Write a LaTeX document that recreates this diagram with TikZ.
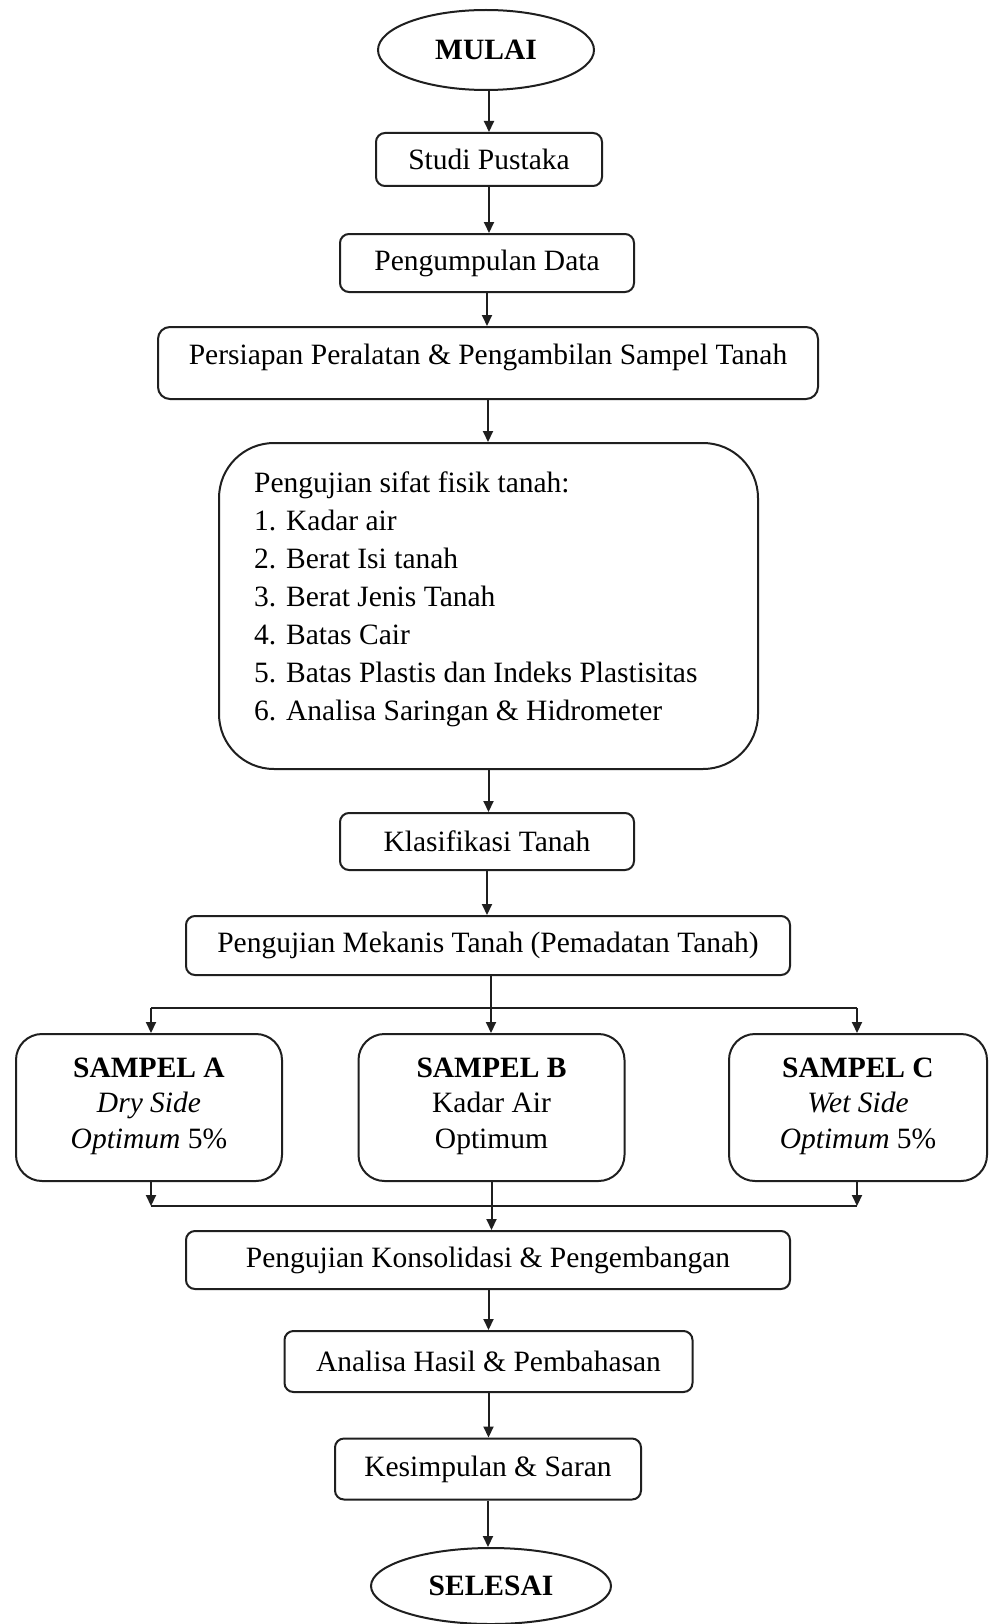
\documentclass[tikz,border=0pt]{standalone}
\usepackage{fontspec}
\setmainfont{Liberation Serif}
\usetikzlibrary{arrows.meta,shapes.geometric}
\begin{document}
\begin{tikzpicture}[x=1pt,y=-1pt,
  every node/.style={font=\fontsize{29.5}{38}\selectfont, inner sep=0pt},
  line/.style={draw=black!88, line width=2pt},
  arr/.style={line, -{Triangle[length=11pt,width=10pt]}},
  stepbox/.style={line, rectangle, rounded corners=9pt},
  term/.style={line, ellipse},
  sampbox/.style={line, rectangle, rounded corners=26pt, minimum width=266pt, minimum height=147pt},
  samptext/.style={align=center, font=\fontsize{29.5}{35.5}\selectfont}
]
\useasboundingbox[fill=white] (0,0) rectangle (989,1624);

\node[term, minimum width=216pt, minimum height=80pt] (mulai) at (486,50) {\textbf{MULAI}};
\node[stepbox, minimum width=226pt, minimum height=53pt] (studi) at (489,159.5) {Studi Pustaka};
\node[stepbox, minimum width=294pt, minimum height=58pt] (data) at (487,263) {Pengumpulan Data};
\node[stepbox, rounded corners=12pt, minimum width=660pt, minimum height=72pt] (persiapan) at (488,363) {};
\node (persiapant) at (488,357) {Persiapan Peralatan \& Pengambilan Sampel Tanah};
\node[line, rectangle, rounded corners=55pt, minimum width=539pt, minimum height=326pt] (fisik) at (488.5,606) {};
\node[anchor=north west, align=left] (fisikt) at (254,472) {Pengujian sifat fisik tanah:\\1. Kadar air\\2. Berat Isi tanah\\3. Berat Jenis Tanah\\4. Batas Cair\\5. Batas Plastis dan Indeks Plastisitas\\6. Analisa Saringan \& Hidrometer};
\node[stepbox, minimum width=294pt, minimum height=57pt] (klas) at (487,841.5) {Klasifikasi Tanah};
\node[stepbox, minimum width=604pt, minimum height=59pt] (mekanis) at (488,945.5) {Pengujian Mekanis Tanah (Pemadatan Tanah)};

\node[sampbox] (sa) at (149,1107.5) {};
\node[sampbox] (sb) at (491.5,1107.5) {};
\node[sampbox, minimum width=258pt] (sc) at (858,1107.5) {};
\node[samptext] (sat) at (149,1106) {\textbf{SAMPEL A}\\\textit{Dry Side}\\\textit{Optimum} 5\%};
\node[samptext] (sbt) at (491.5,1106) {\textbf{SAMPEL B}\\Kadar Air\\Optimum};
\node[samptext] (sct) at (858,1106) {\textbf{SAMPEL C}\\\textit{Wet Side}\\\textit{Optimum} 5\%};

\node[stepbox, minimum width=604pt, minimum height=58pt] (kons) at (488,1260) {Pengujian Konsolidasi \& Pengembangan};
\node[stepbox, minimum width=408pt, minimum height=61pt] (analisa) at (488.5,1361.5) {Analisa Hasil \& Pembahasan};
\node[stepbox, minimum width=306pt, minimum height=61pt] (simpul) at (488,1469) {Kesimpulan \& Saran};
\node[term, minimum width=240pt, minimum height=76pt] (selesai) at (491,1586) {\textbf{SELESAI}};

\coordinate (splitc) at (491,1008);
\coordinate (splitl) at (151,1008);
\coordinate (splitr) at (857,1008);
\coordinate (mergel) at (151,1206);
\coordinate (merger) at (857,1206);

\draw[arr] (mulai.south -| studi.north) -- (studi.north);
\draw[arr] (studi.south) -- (studi.south |- data.north);
\draw[arr] (data.south) -- (data.south |- persiapan.north);
\draw[arr] (persiapan.south) -- (persiapan.south |- fisik.north);
\draw[arr] (fisik.south) -- (fisik.south |- klas.north);
\draw[arr] (klas.south) -- (klas.south |- mekanis.north);
\draw[line] (mekanis.south -| splitc) -- (splitc);
\draw[line] (splitl) -- (splitr);
\draw[arr] (splitl) -- (splitl |- sa.north);
\draw[arr] (splitc) -- (splitc |- sb.north);
\draw[arr] (splitr) -- (splitr |- sc.north);
\draw[arr] (sa.south -| mergel) -- (mergel);
\draw[arr] (sc.south -| merger) -- (merger);
\draw[line] (mergel) -- (merger);
\draw[arr] (sb.south) -- (sb.south |- kons.north);
\draw[arr] (kons.south -| analisa.north) -- (analisa.north);
\draw[arr] (analisa.south) -- (analisa.south |- simpul.north);
\draw[arr] (simpul.south) -- (simpul.south |- selesai.north);
\end{tikzpicture}
\end{document}
